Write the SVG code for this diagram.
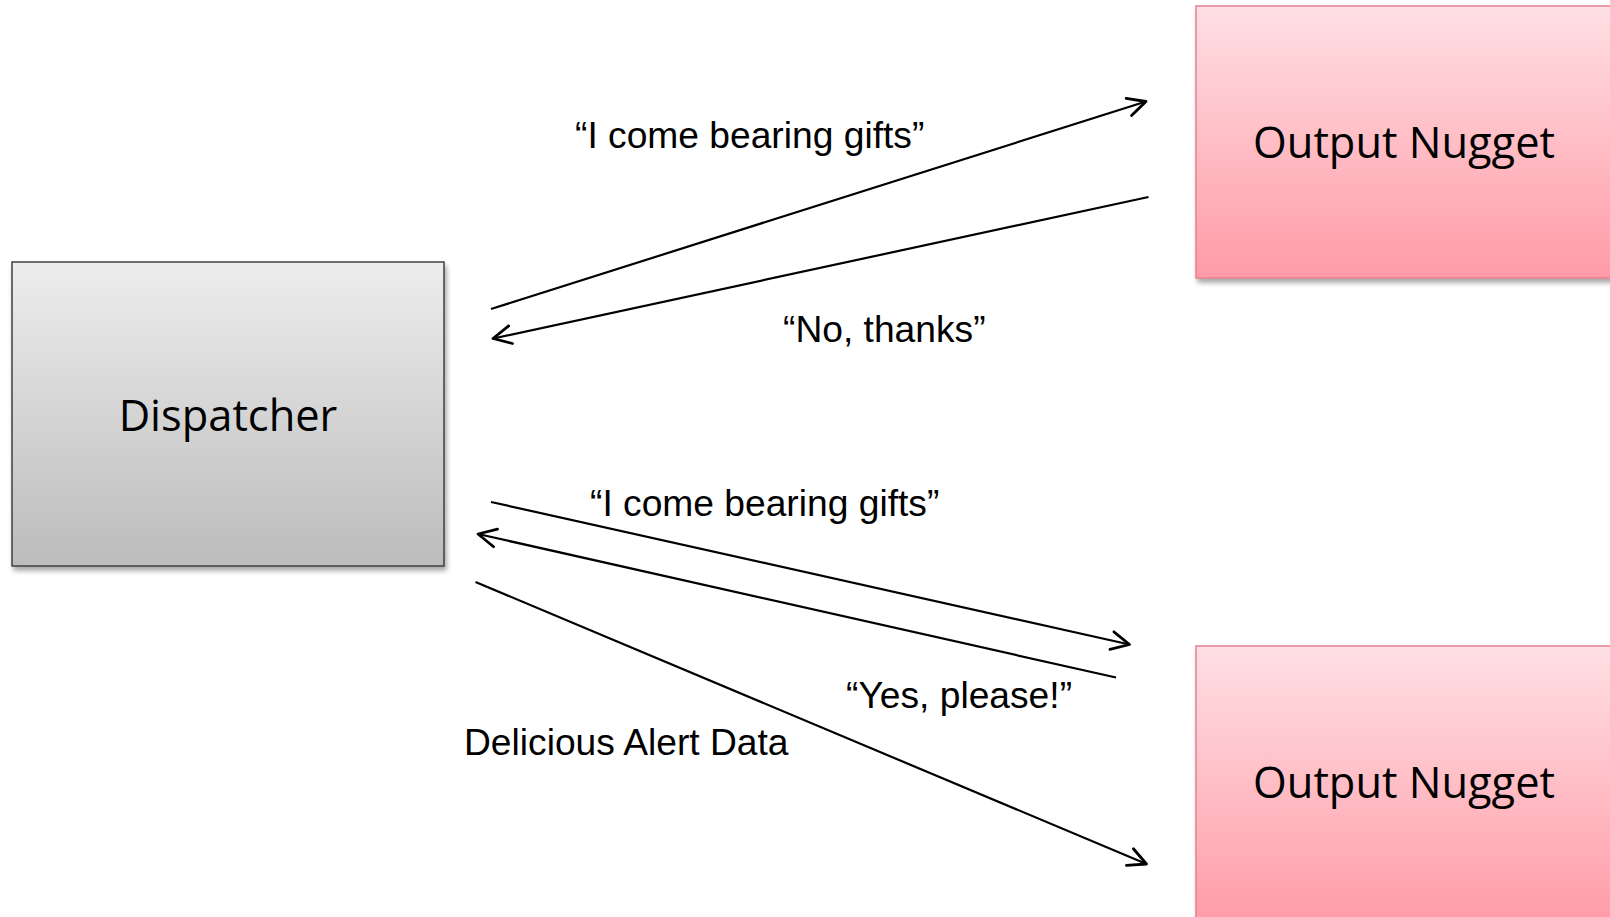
<svg xmlns="http://www.w3.org/2000/svg" width="1610" height="917" viewBox="0 0 1610 917">
<style>
.node-label{font-family:"Open Sans","Noto Sans",sans-serif;font-size:43.4px;fill:#000;text-anchor:middle}
.edge-label{font-family:"Liberation Sans",Arial,sans-serif;font-size:37.2px;fill:#000}
.conn{stroke:#000;stroke-width:2.2;fill:none;marker-end:url(#arrow)}
</style>
<defs>
<linearGradient id="grayGrad" x1="0" y1="0" x2="0" y2="1">
<stop offset="0" stop-color="#ededed"/>
<stop offset="1" stop-color="#bcbcbc"/>
</linearGradient>
<linearGradient id="pinkGrad" x1="0" y1="0" x2="0" y2="1">
<stop offset="0" stop-color="#ffe0e4"/>
<stop offset="1" stop-color="#ff9ba7"/>
</linearGradient>
<filter id="shadow" x="-10%" y="-10%" width="130%" height="130%">
<feDropShadow dx="2" dy="4" stdDeviation="2.5" flood-color="#000" flood-opacity="0.35"/>
</filter>
<marker id="arrow" markerUnits="userSpaceOnUse" markerWidth="30" markerHeight="30" refX="0" refY="0" viewBox="-22 -15 26 30" orient="auto" overflow="visible">
<path d="M-18,-9 L0,0 L-18,9" fill="none" stroke="#000" stroke-width="2.8" stroke-linecap="round" stroke-linejoin="round"/>
</marker>
</defs>
<rect width="1610" height="917" fill="#fff"/>
<g id="dispatcher">
<rect x="12" y="262" width="432" height="304" fill="url(#grayGrad)" stroke="#404040" stroke-width="1.5" filter="url(#shadow)"/>
<text class="node-label" x="228" y="431">Dispatcher</text>
</g>
<g id="output-nugget-1">
<rect x="1196" y="6" width="420" height="272" fill="url(#pinkGrad)" stroke="#e5808e" stroke-width="1.5" filter="url(#shadow)"/>
<text class="node-label" x="1404" y="158">Output Nugget</text>
</g>
<g id="output-nugget-2">
<rect x="1196" y="646" width="420" height="280" fill="url(#pinkGrad)" stroke="#e5808e" stroke-width="1.5" filter="url(#shadow)"/>
<text class="node-label" x="1404" y="798">Output Nugget</text>
</g>
<g id="connectors">
<line class="conn" x1="491" y1="309" x2="1146" y2="101.5"/>
<line class="conn" x1="1148.5" y1="197" x2="493" y2="338.5"/>
<line class="conn" x1="491" y1="502" x2="1129.5" y2="644.5"/>
<line class="conn" x1="1116" y1="677.5" x2="478" y2="534"/>
<line class="conn" x1="475.5" y1="582" x2="1146.5" y2="864"/>
</g>
<g id="labels">
<text class="edge-label" x="575" y="148">“I come bearing gifts”</text>
<text class="edge-label" x="783" y="342">“No, thanks”</text>
<text class="edge-label" x="590" y="516">“I come bearing gifts”</text>
<text class="edge-label" x="846" y="708">“Yes, please!”</text>
<text class="edge-label" x="464" y="755">Delicious Alert Data</text>
</g>
</svg>
